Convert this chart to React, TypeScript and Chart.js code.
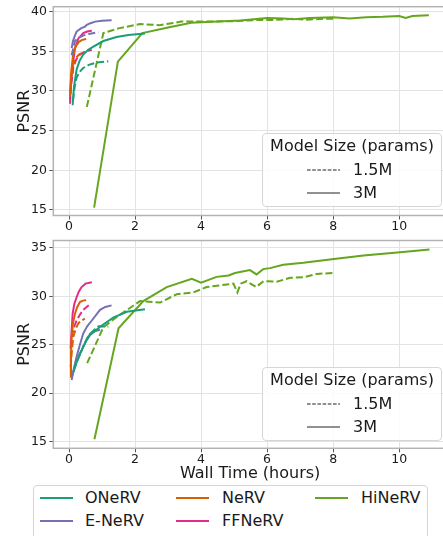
import React, { useEffect, useRef } from 'react';
import { Chart, registerables } from 'chart.js';

Chart.register(...registerables);

type P = [number, number];

// ---------- tick labels ----------
const X_TICKS = [0, 2, 4, 6, 8, 10];
const TOP_Y_TICKS = [15, 20, 25, 30, 35, 40];
const BOT_Y_TICKS = [15, 20, 25, 30, 35];

// ---------- categories ----------
const MODELS = ['ONeRV', 'E-NeRV', 'NeRV', 'FFNeRV', 'HiNeRV'];
const SIZES = ['1.5M', '3M'];

// ---------- top panel: [hours, PSNR] ----------
const TOP_ONERV_1_5M: P[] = [[0.12, 28.8], [0.17, 30.5], [0.23, 31.7], [0.32, 32.4], [0.43, 32.9], [0.6, 33.3], [0.84, 33.6], [1.19, 33.75]];
const TOP_ONERV_3M: P[] = [[0.11, 28.2], [0.15, 30.5], [0.23, 32.7], [0.32, 33.8], [0.43, 34.6], [0.58, 35.2], [0.74, 35.6], [1.04, 36.3], [1.44, 36.8], [1.8, 37.05], [2.3, 37.25]];
const TOP_ENERV_1_5M: P[] = [[0.08, 34.5], [0.18, 36.3], [0.28, 36.7], [0.43, 37.0], [0.6, 37.2], [0.89, 37.4]];
const TOP_ENERV_3M: P[] = [[0.08, 35.4], [0.12, 36.3], [0.18, 37.0], [0.23, 37.5], [0.36, 37.9], [0.48, 38.1], [0.54, 38.35], [0.65, 38.55], [0.79, 38.75], [1.0, 38.85], [1.29, 38.92]];
const TOP_NERV_1_5M: P[] = [[0.03, 29.3], [0.07, 31.6], [0.13, 33.4], [0.2, 34.1], [0.3, 34.6], [0.4, 34.8]];
const TOP_NERV_3M: P[] = [[0.03, 29.8], [0.07, 32.5], [0.12, 34.5], [0.2, 35.6], [0.3, 36.2], [0.4, 36.45], [0.52, 36.55]];
const TOP_FFNERV_1_5M: P[] = [[0.03, 28.4], [0.06, 30.5], [0.13, 33.0], [0.22, 34.0], [0.33, 34.6], [0.5, 35.0], [0.69, 35.2]];
const TOP_FFNERV_3M: P[] = [[0.03, 28.9], [0.07, 31.5], [0.11, 33.1], [0.18, 35.4], [0.28, 36.6], [0.43, 37.3], [0.55, 37.5], [0.69, 37.6]];
const TOP_HINERV_1_5M: P[] = [[0.54, 28.0], [1.04, 37.3], [1.5, 37.9], [2.15, 38.45], [2.75, 38.3], [3.4, 38.75], [4.0, 38.75], [5.0, 38.8], [5.7, 38.95], [6.2, 38.95], [6.8, 39.1], [7.2, 39.0], [7.7, 39.1], [8.0, 39.1]];
const TOP_HINERV_3M: P[] = [[0.76, 15.3], [1.48, 33.7], [2.22, 37.3], [3.0, 38.0], [3.7, 38.6], [4.5, 38.75], [5.2, 38.9], [6.0, 39.2], [6.5, 39.15], [6.8, 39.05], [7.3, 39.2], [8.0, 39.3], [8.5, 39.15], [9.0, 39.3], [9.5, 39.35], [10.0, 39.45], [10.2, 39.2], [10.4, 39.45], [10.9, 39.55]];

// ---------- bottom panel: [hours, PSNR] ----------
const BOT_ONERV_1_5M: P[] = [[0.15, 22.4], [0.28, 23.6], [0.43, 24.8], [0.55, 25.7], [0.69, 26.3], [0.89, 26.9], [1.19, 26.85]];
const BOT_ONERV_3M: P[] = [[0.13, 22.2], [0.25, 23.4], [0.38, 24.4], [0.5, 25.3], [0.64, 26.0], [0.94, 26.85], [1.34, 27.8], [1.75, 28.4], [2.3, 28.65]];
const BOT_ENERV_1_5M: P[] = [[0.1, 21.8], [0.2, 23.0], [0.3, 23.9], [0.43, 24.8], [0.64, 26.15], [0.8, 26.4], [0.94, 26.55]];
const BOT_ENERV_3M: P[] = [[0.08, 21.35], [0.15, 22.6], [0.23, 23.75], [0.33, 25.0], [0.43, 26.15], [0.55, 26.9], [0.69, 27.5], [0.94, 28.6], [1.1, 28.9], [1.29, 29.06]];
const BOT_NERV_1_5M: P[] = [[0.05, 22.7], [0.09, 24.5], [0.13, 25.8], [0.2, 26.6], [0.28, 27.2], [0.38, 27.5], [0.48, 27.7]];
const BOT_NERV_3M: P[] = [[0.03, 21.7], [0.06, 24.0], [0.08, 25.8], [0.12, 27.2], [0.18, 28.2], [0.25, 28.9], [0.33, 29.4], [0.42, 29.55], [0.52, 29.6]];
const BOT_FFNERV_1_5M: P[] = [[0.08, 25.8], [0.15, 26.8], [0.23, 27.5], [0.33, 28.1], [0.43, 28.6], [0.64, 29.2]];
const BOT_FFNERV_3M: P[] = [[0.05, 24.6], [0.08, 26.5], [0.11, 28.2], [0.16, 29.2], [0.23, 29.9], [0.3, 30.5], [0.38, 30.95], [0.5, 31.3], [0.69, 31.45]];
const BOT_HINERV_1_5M: P[] = [[0.55, 23.1], [1.04, 26.8], [1.44, 27.85], [2.15, 29.5], [2.76, 29.35], [3.26, 30.2], [3.77, 30.4], [4.17, 30.95], [4.98, 31.3], [5.1, 30.4], [5.2, 31.3], [5.38, 31.55], [5.67, 30.95], [5.89, 31.55], [6.29, 31.5], [6.7, 31.9], [7.1, 31.95], [7.5, 32.3], [8.0, 32.4]];
const BOT_HINERV_3M: P[] = [[0.77, 15.25], [1.5, 26.7], [2.25, 29.5], [2.96, 30.95], [3.72, 31.8], [4.0, 31.4], [4.47, 32.0], [4.83, 32.15], [5.03, 32.4], [5.48, 32.7], [5.68, 32.25], [5.88, 32.8], [6.09, 32.9], [6.49, 33.25], [7.1, 33.45], [7.9, 33.8], [8.92, 34.2], [10.03, 34.55], [10.92, 34.83]];

const COLORS: Record<string, string> = {
  ONeRV: '#1b9e77',
  'E-NeRV': '#7570b3',
  NeRV: '#d95f02',
  FFNeRV: '#e7298a',
  HiNeRV: '#66a61e',
};

const TOP_SERIES: Record<string, P[][]> = {
  ONeRV: [TOP_ONERV_1_5M, TOP_ONERV_3M],
  'E-NeRV': [TOP_ENERV_1_5M, TOP_ENERV_3M],
  NeRV: [TOP_NERV_1_5M, TOP_NERV_3M],
  FFNeRV: [TOP_FFNERV_1_5M, TOP_FFNERV_3M],
  HiNeRV: [TOP_HINERV_1_5M, TOP_HINERV_3M],
};
const BOT_SERIES: Record<string, P[][]> = {
  ONeRV: [BOT_ONERV_1_5M, BOT_ONERV_3M],
  'E-NeRV': [BOT_ENERV_1_5M, BOT_ENERV_3M],
  NeRV: [BOT_NERV_1_5M, BOT_NERV_3M],
  FFNeRV: [BOT_FFNERV_1_5M, BOT_FFNERV_3M],
  HiNeRV: [BOT_HINERV_1_5M, BOT_HINERV_3M],
};

const FONT = "'DejaVu Sans', sans-serif";
const TEXT = '#1a1a1a';
const X_MIN = -0.476;
const X_MAX = 11.45;

Chart.defaults.font.family = FONT;
Chart.defaults.color = TEXT;

const framePlugin = {
  id: 'frame',
  afterDraw(chart: any) {
    const { ctx, chartArea: a } = chart;
    ctx.save();
    ctx.strokeStyle = '#b3b3b3';
    ctx.lineWidth = 1.5;
    ctx.strokeRect(a.left, a.top, a.right - a.left, a.bottom - a.top);
    ctx.restore();
  },
};

function buildDatasets(series: Record<string, P[][]>) {
  const out: any[] = [];
  MODELS.forEach((m) => {
    SIZES.forEach((s, i) => {
      out.push({
        label: `${m} ${s}`,
        data: series[m][i].map(([x, y]) => ({ x, y })),
        borderColor: COLORS[m],
        backgroundColor: COLORS[m],
        borderWidth: 2,
        borderDash: i === 0 ? [7, 3] : [],
        pointRadius: 0,
        tension: 0,
        fill: false,
      });
    });
  });
  return out;
}

function makeConfig(
  series: Record<string, P[][]>,
  yMin: number,
  yMax: number,
  yTicks: number[],
  padTop: number,
  xHeight: number,
  showXTitle: boolean
): any {
  return {
    type: 'line',
    data: { datasets: buildDatasets(series) },
    plugins: [framePlugin],
    options: {
      animation: false,
      responsive: false,
      maintainAspectRatio: false,
      layout: { padding: { top: padTop, left: 0, right: 3, bottom: 0 } },
      plugins: { legend: { display: false }, tooltip: { enabled: false } },
      scales: {
        x: {
          type: 'linear',
          min: X_MIN,
          max: X_MAX,
          afterBuildTicks: (s: any) => {
            s.ticks = X_TICKS.map((v) => ({ value: v }));
          },
          afterFit: (s: any) => {
            s.height = xHeight;
            s.paddingLeft = 0;
            s.paddingRight = 0;
          },
          ticks: {
            callback: (v: any) => String(v),
            font: { size: 12.5, lineHeight: 1 },
            color: TEXT,
            padding: 1,
            maxRotation: 0,
            autoSkip: false,
          },
          grid: { color: '#e3e3e3', lineWidth: 1, tickColor: '#555', tickLength: 4 },
          border: { display: false },
          title: showXTitle
            ? {
                display: true,
                text: 'Wall Time (hours)',
                font: { size: 16, lineHeight: 1.2 },
                color: TEXT,
                padding: { top: 0, bottom: 2.4 },
              }
            : { display: false },
        },
        y: {
          type: 'linear',
          min: yMin,
          max: yMax,
          afterBuildTicks: (s: any) => {
            s.ticks = yTicks.map((v) => ({ value: v }));
          },
          afterFit: (s: any) => {
            s.width = 53.3;
            s.paddingTop = 0;
            s.paddingBottom = 0;
          },
          ticks: {
            callback: (v: any) => String(v),
            font: { size: 12.5, lineHeight: 1.2 },
            color: TEXT,
            padding: 2.3,
            autoSkip: false,
          },
          grid: { color: '#e3e3e3', lineWidth: 1, tickColor: '#555', tickLength: 4 },
          border: { display: false },
          title: {
            display: true,
            text: 'PSNR',
            font: { size: 16, lineHeight: 1.2 },
            color: TEXT,
            padding: { top: 15, bottom: 0 },
          },
        },
      },
    },
  };
}

function ChartCanvas(props: {
  top: number;
  height: number;
  series: Record<string, P[][]>;
  yMin: number;
  yMax: number;
  yTicks: number[];
  padTop: number;
  xHeight: number;
  showXTitle: boolean;
}) {
  const ref = useRef<HTMLCanvasElement | null>(null);
  useEffect(() => {
    if (!ref.current) return;
    const chart = new Chart(
      ref.current,
      makeConfig(props.series, props.yMin, props.yMax, props.yTicks, props.padTop, props.xHeight, props.showXTitle)
    );
    return () => chart.destroy();
  }, []);
  return (
    <canvas
      ref={ref}
      width={450}
      height={props.height}
      style={{ position: 'absolute', left: 0, top: props.top, width: 450, height: props.height }}
    />
  );
}

function SizeLegend(props: { top: number }) {
  const t = props.top;
  const row = (y: number, dashed: boolean, label: string) => (
    <>
      <svg style={{ position: 'absolute', left: 307, top: y - 2, width: 34, height: 4 }} width={34} height={4}>
        <line x1={0} y1={2} x2={33} y2={2} stroke="#222" strokeWidth={1} strokeDasharray={dashed ? '3.6 1.6' : undefined} />
      </svg>
      <div style={{ position: 'absolute', left: 353, top: y - 10, fontSize: 16, lineHeight: '20px', whiteSpace: 'nowrap' }}>{label}</div>
    </>
  );
  return (
    <>
      <div
        style={{
          position: 'absolute',
          left: 262,
          top: t,
          width: 180,
          height: 74,
          boxSizing: 'border-box',
          border: '1px solid #d6d6d6',
          borderRadius: 4,
          background: 'rgba(255,255,255,0.85)',
        }}
      />
      <div
        style={{
          position: 'absolute',
          left: 262,
          top: t + 3,
          width: 180,
          textAlign: 'center',
          fontSize: 16,
          lineHeight: '20px',
          whiteSpace: 'nowrap',
        }}
      >
        Model Size (params)
      </div>
      {row(t + 37, true, SIZES[0])}
      {row(t + 60, false, SIZES[1])}
    </>
  );
}

const LEGEND_LAYOUT: { name: string; line: number; text: number; y: number }[] = [
  { name: 'ONeRV', line: 40, text: 85, y: 498 },
  { name: 'E-NeRV', line: 40, text: 85, y: 521 },
  { name: 'NeRV', line: 176, text: 222, y: 498 },
  { name: 'FFNeRV', line: 176, text: 222, y: 521 },
  { name: 'HiNeRV', line: 315, text: 361, y: 498 },
];

function ModelLegend() {
  return (
    <>
      <div
        style={{
          position: 'absolute',
          left: 33,
          top: 485,
          width: 395,
          height: 70,
          boxSizing: 'border-box',
          border: '1px solid #d6d6d6',
          borderRadius: 4,
          background: '#fff',
        }}
      />
      {LEGEND_LAYOUT.map((e) => (
        <React.Fragment key={e.name}>
          <div style={{ position: 'absolute', left: e.line, top: e.y - 1, width: 33, height: 2, background: COLORS[e.name] }} />
          <div style={{ position: 'absolute', left: e.text, top: e.y - 10, fontSize: 16, lineHeight: '20px', whiteSpace: 'nowrap' }}>{e.name}</div>
        </React.Fragment>
      ))}
    </>
  );
}

export default function App() {
  return (
    <div
      style={{
        position: 'fixed',
        left: 0,
        top: 0,
        width: 443,
        height: 536,
        overflow: 'hidden',
        background: '#fff',
        fontFamily: FONT,
        color: TEXT,
      }}
    >
      <ChartCanvas top={0} height={236} series={TOP_SERIES} yMin={14.3} yMax={40.63} yTicks={TOP_Y_TICKS} padTop={6.7} xHeight={20.5} showXTitle={false} />
      <ChartCanvas top={236} height={250} series={BOT_SERIES} yMin={14.32} yMax={35.75} yTicks={BOT_Y_TICKS} padTop={4.5} xHeight={37.7} showXTitle={true} />
      <SizeLegend top={133} />
      <SizeLegend top={367} />
      <ModelLegend />
    </div>
  );
}
